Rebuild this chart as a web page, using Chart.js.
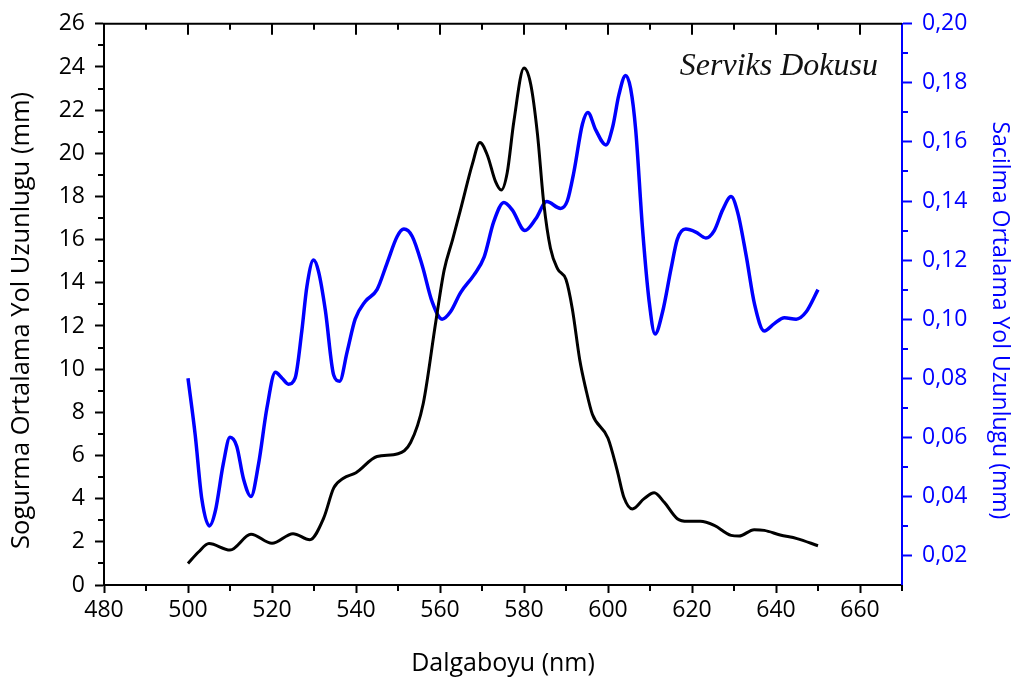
<!DOCTYPE html>
<html>
<head>
<meta charset="utf-8">
<script src="https://cdn.jsdelivr.net/npm/chart.js@4/dist/chart.umd.min.js"></script>
<style>
  html, body { margin: 0; padding: 0; background: #fff; }
  #wrap { width: 1019px; height: 684px; }
</style>
</head>
<body>
<div id="wrap"><canvas id="c" width="1019" height="684"></canvas></div>
<script>
// ---- Data ----
const absorptionWavelengths = [500, 502.5, 505, 510, 515, 520, 525, 529, 532.3, 534.7, 537, 540, 545, 550, 553, 556, 559, 561, 563, 565.3, 567.7, 569.5, 571.3, 573.2, 574.6, 576, 577.6, 580, 581.6, 583.2, 584.7, 586.3, 588, 590, 591.5, 593.3, 594.7, 596.3, 600, 602.2, 603.8, 605.8, 608.6, 611, 613.4, 616.5, 619, 622, 625.3, 629.3, 631.2, 634.8, 637.2, 641, 645, 650];
const absorptionValues = [1.0, 1.53, 1.92, 1.62, 2.35, 1.93, 2.38, 2.10, 3.1, 4.5, 4.95, 5.2, 5.95, 6.08, 6.6, 8.4, 12.2, 14.6, 16.0, 17.7, 19.5, 20.5, 19.9, 18.7, 18.3, 19.1, 21.5, 23.95, 23.2, 20.9, 17.7, 15.6, 14.65, 14.15, 12.8, 10.4, 9.1, 7.9, 6.8, 5.3, 4.05, 3.52, 4.0, 4.27, 3.83, 3.07, 2.95, 2.95, 2.76, 2.30, 2.27, 2.56, 2.53, 2.32, 2.15, 1.82];

const scatteringWavelengths = [500, 501.7, 503.3, 505.1, 506.5, 508.4, 510, 511.6, 513.2, 515, 516.8, 518.8, 520.8, 522.4, 523.9, 525.5, 527.1, 528.3, 529.9, 531.1, 532.7, 534.7, 536.1, 537.9, 539.8, 542.2, 545, 547.4, 549.8, 551.4, 553.4, 555.8, 558.1, 560.5, 562.5, 564.9, 568.1, 570.5, 572.8, 575.2, 577.2, 580.2, 582.8, 585.4, 588.7, 590.3, 591.9, 593.9, 595.2, 597.1, 599.5, 601.1, 602.6, 604.2, 605.4, 606.6, 608.2, 609.8, 611.2, 613, 615, 616.5, 618.5, 620.9, 623.3, 625.3, 627.3, 629.3, 630.9, 632.9, 634.9, 637.2, 639.6, 642, 644.8, 647.2, 650];
const scatteringValues = [0.080, 0.061, 0.039, 0.030, 0.035, 0.051, 0.060, 0.057, 0.046, 0.040, 0.051, 0.070, 0.082, 0.080, 0.078, 0.080, 0.096, 0.111, 0.120, 0.116, 0.103, 0.081, 0.079, 0.089, 0.100, 0.106, 0.110, 0.119, 0.128, 0.1305, 0.128, 0.118, 0.106, 0.100, 0.1025, 0.109, 0.115, 0.121, 0.133, 0.1395, 0.137, 0.130, 0.134, 0.1398, 0.1375, 0.140, 0.150, 0.166, 0.170, 0.164, 0.159, 0.165, 0.176, 0.1825, 0.178, 0.164, 0.131, 0.106, 0.095, 0.1025, 0.117, 0.127, 0.1305, 0.1295, 0.1275, 0.130, 0.137, 0.1415, 0.136, 0.1215, 0.105, 0.096, 0.0985, 0.1005, 0.100, 0.1025, 0.110];

// ---- Ticks ----
const xTickValues = [480, 500, 520, 540, 560, 580, 600, 620, 640, 660];
const xTickLabels = ['480', '500', '520', '540', '560', '580', '600', '620', '640', '660'];
const xMinorTicks = [490, 510, 530, 550, 570, 590, 610, 630, 650, 670];

const leftTickValues = [0, 2, 4, 6, 8, 10, 12, 14, 16, 18, 20, 22, 24, 26];
const leftTickLabels = ['0', '2', '4', '6', '8', '10', '12', '14', '16', '18', '20', '22', '24', '26'];
const leftMinorTicks = [1, 3, 5, 7, 9, 11, 13, 15, 17, 19, 21, 23, 25];

const rightTickValues = [0.02, 0.04, 0.06, 0.08, 0.10, 0.12, 0.14, 0.16, 0.18, 0.20];
const rightTickLabels = ['0,02', '0,04', '0,06', '0,08', '0,10', '0,12', '0,14', '0,16', '0,18', '0,20'];
const rightMinorTicks = [0.03, 0.05, 0.07, 0.09, 0.11, 0.13, 0.15, 0.17, 0.19];

// ---- Text ----
const xTitle = 'Dalgaboyu (nm)';
const leftTitle = 'Sogurma Ortalama Yol Uzunlugu (mm)';
const rightTitle = 'Sacilma Ortalama Yol Uzunlugu (mm)';
const annotationText = 'Serviks Dokusu';

const BLUE = '#0000ff';
const FONT = "'Open Sans', 'DejaVu Sans', sans-serif";

const whiteBg = {
  id: 'whiteBg',
  beforeDraw(chart) {
    const ctx = chart.ctx;
    ctx.save();
    ctx.fillStyle = '#fff';
    ctx.fillRect(0, 0, chart.width, chart.height);
    ctx.restore();
  }
};

const decor = {
  id: 'decor',
  afterDraw(chart) {
    const { ctx, chartArea } = chart;
    const { left, right, top, bottom } = chartArea;
    const sx = chart.scales.x, sy = chart.scales.y, sy1 = chart.scales.y1;
    ctx.save();
    ctx.lineCap = 'butt';
    // top frame line
    ctx.strokeStyle = '#000';
    ctx.lineWidth = 2;
    ctx.beginPath(); ctx.moveTo(left - 1, top); ctx.lineTo(right, top); ctx.stroke();
    // top inward ticks
    xTickValues.forEach(v => {
      const px = Math.round(sx.getPixelForValue(v));
      ctx.beginPath(); ctx.moveTo(px, top); ctx.lineTo(px, top + 11); ctx.stroke();
    });
    xMinorTicks.forEach(v => {
      const px = Math.round(sx.getPixelForValue(v));
      if (px >= right - 1) return;
      ctx.beginPath(); ctx.moveTo(px, top); ctx.lineTo(px, top + 6); ctx.stroke();
    });
    // bottom minor ticks
    xMinorTicks.forEach(v => {
      const px = Math.round(sx.getPixelForValue(v));
      ctx.beginPath(); ctx.moveTo(px, bottom); ctx.lineTo(px, bottom + 6); ctx.stroke();
    });
    // left minor ticks
    leftMinorTicks.forEach(v => {
      const py = Math.round(sy.getPixelForValue(v));
      ctx.beginPath(); ctx.moveTo(left, py); ctx.lineTo(left - 6, py); ctx.stroke();
    });
    // right minor ticks
    ctx.strokeStyle = BLUE;
    rightMinorTicks.forEach(v => {
      const py = Math.round(sy1.getPixelForValue(v));
      ctx.beginPath(); ctx.moveTo(right, py); ctx.lineTo(right + 6, py); ctx.stroke();
    });

    // axis titles (left/right), centred slightly below the middle as in the reference
    const midY = (top + bottom) / 2 + 16;
    ctx.textAlign = 'center';
    ctx.textBaseline = 'middle';
    ctx.fillStyle = '#000';
    ctx.font = '25.5px ' + FONT;
    ctx.save();
    ctx.translate(21.5, midY);
    ctx.rotate(-Math.PI / 2);
    ctx.fillText(leftTitle, 0, 0);
    ctx.restore();
    ctx.fillStyle = BLUE;
    ctx.font = '23px ' + FONT;
    ctx.save();
    ctx.translate(1000, midY);
    ctx.rotate(Math.PI / 2);
    ctx.fillText(rightTitle, 0, 0);
    ctx.restore();

    // annotation
    ctx.fillStyle = '#111';
    ctx.font = "italic 32px 'Liberation Serif', 'DejaVu Serif', serif";
    ctx.textAlign = 'right';
    ctx.textBaseline = 'alphabetic';
    ctx.fillText(annotationText, right - 24, top + 51.5);
    ctx.restore();
  }
};

const absorptionData = absorptionWavelengths.map((x, i) => ({ x, y: absorptionValues[i] }));
const scatteringData = scatteringWavelengths.map((x, i) => ({ x, y: scatteringValues[i] }));

new Chart(document.getElementById('c'), {
  type: 'line',
  data: {
    datasets: [
      {
        label: leftTitle,
        data: absorptionData,
        yAxisID: 'y',
        borderColor: '#000',
        borderWidth: 3,
        pointRadius: 0,
        fill: false,
        cubicInterpolationMode: 'monotone'
      },
      {
        label: rightTitle,
        data: scatteringData,
        yAxisID: 'y1',
        borderColor: BLUE,
        borderWidth: 3.5,
        pointRadius: 0,
        fill: false,
        cubicInterpolationMode: 'monotone'
      }
    ]
  },
  options: {
    responsive: false,
    animation: false,
    devicePixelRatio: 1,
    layout: { padding: { top: 20, left: 0, right: 0, bottom: 0 } },
    plugins: { legend: { display: false }, tooltip: { enabled: false }, title: { display: false } },
    scales: {
      x: {
        type: 'linear',
        position: 'bottom',
        min: 480,
        max: 670,
        afterBuildTicks(scale) { scale.ticks = xTickValues.map(v => ({ value: v })); },
        afterFit(scale) { scale.height = 99; },
        ticks: {
          callback: (v, i) => xTickLabels[i],
          color: '#000',
          font: { family: FONT, size: 23, lineHeight: 1.2 },
          padding: 4,
          maxRotation: 0,
          autoSkip: false
        },
        grid: { drawOnChartArea: false, drawTicks: true, tickLength: 8, tickWidth: 2, tickColor: '#000' },
        border: { display: true, color: '#000', width: 2 },
        title: {
          display: true,
          text: xTitle,
          color: '#000',
          font: { family: FONT, size: 25, lineHeight: 1.2 },
          padding: { top: 0, bottom: 5 }
        }
      },
      y: {
        type: 'linear',
        position: 'left',
        min: 0,
        max: 26,
        afterBuildTicks(scale) { scale.ticks = leftTickValues.map(v => ({ value: v })); },
        afterFit(scale) { scale.width = 104; },
        ticks: {
          callback: (v, i) => leftTickLabels[i],
          color: '#000',
          font: { family: FONT, size: 23, lineHeight: 1.2 },
          padding: 10,
          autoSkip: false
        },
        grid: { drawOnChartArea: false, drawTicks: true, tickLength: 9, tickWidth: 2, tickColor: '#000' },
        border: { display: true, color: '#000', width: 2 },
        title: { display: false, text: leftTitle }
      },
      y1: {
        type: 'linear',
        position: 'right',
        min: 0.01,
        max: 0.20,
        afterBuildTicks(scale) { scale.ticks = rightTickValues.map(v => ({ value: v })); },
        afterFit(scale) { scale.width = 117; },
        ticks: {
          callback: (v, i) => rightTickLabels[i],
          color: BLUE,
          font: { family: FONT, size: 23, lineHeight: 1.2 },
          padding: 10,
          autoSkip: false
        },
        grid: { drawOnChartArea: false, drawTicks: true, tickLength: 10, tickWidth: 2, tickColor: BLUE },
        border: { display: true, color: BLUE, width: 2 },
        title: { display: false, text: rightTitle }
      }
    }
  },
  plugins: [whiteBg, decor]
});
</script>
</body>
</html>
